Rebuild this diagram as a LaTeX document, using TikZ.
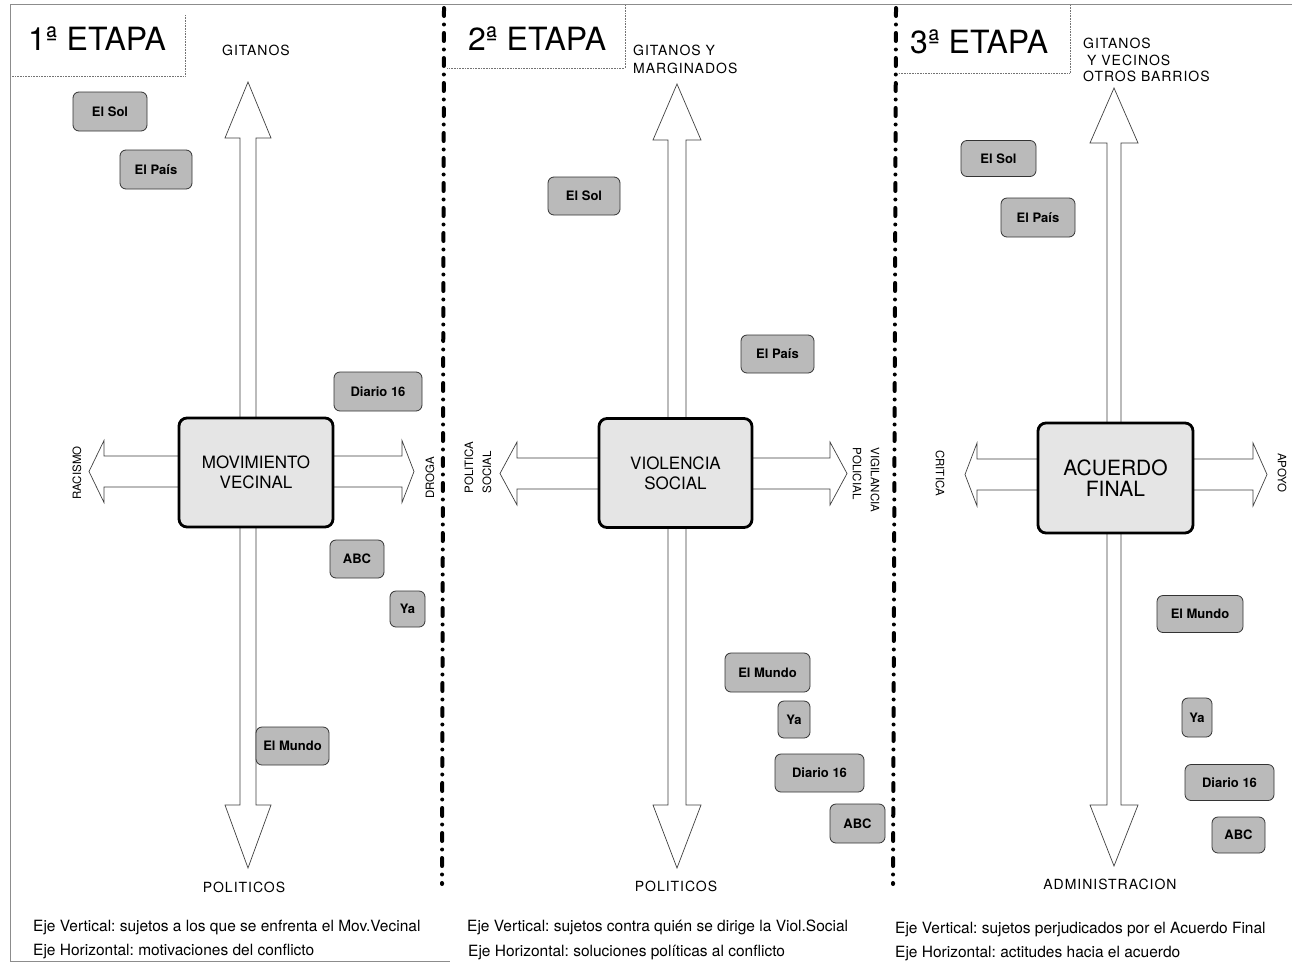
\documentclass[tikz,border=0pt]{standalone}
\usepackage{fontspec}
\setmainfont{TeX Gyre Heros}
\newfontfamily\spacedfont[LetterSpace=7]{TeX Gyre Heros}
\frenchspacing
\begin{document}
\begin{tikzpicture}[x=1pt,y=-1pt]
\tikzset{
 arrowshape/.style={draw=black!75, line width=0.7pt, fill=white, line join=miter},
 mainbox/.style={draw=black, line width=2.8pt, rounded corners=8pt, fill=black!10, align=center, font=\fontsize{17}{20}\selectfont, inner sep=0pt},
 media/.style={draw=black!80, line width=0.8pt, rounded corners=6pt, fill=black!27, font=\fontsize{13}{14}\selectfont\bfseries, inner sep=0pt},
 axislabel/.style={font=\fontsize{11.5}{18}\selectfont, align=left, inner sep=0pt},
 header/.style={font=\spacedfont\fontsize{14}{18}\selectfont, inner sep=0pt},
 titlebox/.style={draw=black!55, densely dotted, line width=0.6pt},
 titletext/.style={font=\fontsize{32}{36}\selectfont, inner sep=0pt, anchor=base west},
 captiontext/.style={font=\fontsize{15.5}{18}\selectfont, inner sep=0pt, anchor=base west},
 divider/.style={line width=4pt, line cap=round, dash pattern=on 8pt off 8.5pt on 0pt off 8.5pt},
 framestyle/.style={draw=black!45, line width=0.6pt}
}
\useasboundingbox (0,0) rectangle (1292,964);
\fill[white] (0,0) rectangle (1292,964);

% frame
\draw[framestyle] (1292,4) -- (10,4) -- (10,961) -- (450,961);

% dividers
\draw[divider] (444,8) -- (442,884);
\draw[divider] (896,8) -- (893,884);

% title boxes
\draw[titlebox] (185,15) -- (185,76) -- (12,76);
\draw[titlebox] (625,5) -- (625,68) -- (447,68);
\draw[titlebox] (1070,5) -- (1070,73) -- (898,73);
\node[titletext] (t1) at (28,50) {1ª ETAPA};
\node[titletext] (t2) at (468,50) {2ª ETAPA};
\node[titletext] (t3) at (910,53) {3ª ETAPA};

% headers
\node[header, anchor=base] (h1) at (256,55) {GITANOS};
\node[header, anchor=base west] (h2a) at (633,55) {GITANOS Y};
\node[header, anchor=base west] (h2b) at (633,73) {MARGINADOS};
\node[header, anchor=base west] (h3a) at (1083,48) {GITANOS};
\node[header, anchor=base west] (h3b) at (1087,65) {Y VECINOS};
\node[header, anchor=base west] (h3c) at (1083,81) {OTROS BARRIOS};

% ===== panel 1 arrows =====
\draw[arrowshape] (248,82) -- (271,138) -- (256,138) -- (256,805) -- (271,805) -- (248,868) -- (225,805) -- (240,805) -- (240,138) -- (225,138) -- cycle;
\draw[arrowshape] (89,471.5) -- (104,440.5) -- (104,456) -- (402,456) -- (402,440.5) -- (414,471.5) -- (402,502.5) -- (402,487) -- (104,487) -- (104,502.5) -- cycle;
\node[mainbox, minimum width=154, minimum height=109] (b1) at (256,472.5) {MOVIMIENTO\\VECINAL};

% ===== panel 2 arrows =====
\draw[arrowshape] (677,84) -- (701,140) -- (686,140) -- (686,805) -- (701,805) -- (677,868) -- (653,805) -- (668,805) -- (668,140) -- (653,140) -- cycle;
\draw[arrowshape] (500,473.5) -- (517,442) -- (517,458) -- (830,458) -- (830,442) -- (847,473.5) -- (830,505) -- (830,489) -- (517,489) -- (517,505) -- cycle;
\node[mainbox, minimum width=153, minimum height=109] (b2) at (675.5,473) {VIOLENCIA\\SOCIAL};

% ===== panel 3 arrows =====
\draw[arrowshape] (1114,88) -- (1138,143) -- (1121,143) -- (1121,805) -- (1138,805) -- (1114,866) -- (1090,805) -- (1107,805) -- (1107,143) -- (1090,143) -- cycle;
\draw[arrowshape] (965,474.5) -- (977,443) -- (977,459) -- (1253,459) -- (1253,443) -- (1267,474.5) -- (1253,506) -- (1253,490) -- (977,490) -- (977,506) -- cycle;
\node[mainbox, minimum width=155, minimum height=110, font=\fontsize{21}{21}\selectfont] (b3) at (1115.5,478) {ACUERDO\\FINAL};

% axis end labels
\node[axislabel, rotate=90] (rac) at (77,473) {RACISMO};
\node[axislabel, rotate=90] (drog) at (430,478) {DROGA};
\node[axislabel, rotate=90] (polsoc) at (478,467.5) {POLITICA\\SOCIAL};
\node[axislabel, rotate=-90] (vigpol) at (866,480) {VIGILANCIA\\POLICIAL};
\node[axislabel, rotate=-90] (crit) at (940,473) {CRITICA};
\node[axislabel, rotate=-90] (apoyo) at (1282,473) {APOYO};

\node[header, anchor=base] (pol1) at (244,892) {POLITICOS};
\node[header, anchor=base] (pol2) at (676,891) {POLITICOS};
\node[header, anchor=base] (adm) at (1110,889) {ADMINISTRACION};

% ===== media panel 1 =====
\node[media, minimum width=74, minimum height=39] (sol1) at (110,111.5) {El Sol};
\node[media, minimum width=72, minimum height=39] (pais1) at (156,169.5) {El País};
\node[media, minimum width=88, minimum height=39] (d16a) at (378,391.5) {Diario 16};
\node[media, minimum width=54, minimum height=38] (abc1) at (357,559) {ABC};
\node[media, minimum width=35, minimum height=36] (ya1) at (407.5,609) {Ya};
\node[media, minimum width=73, minimum height=38] (mundo1) at (292.5,746) {El Mundo};

% ===== media panel 2 =====
\node[media, minimum width=72, minimum height=38] (sol2) at (584,196) {El Sol};
\node[media, minimum width=73, minimum height=38] (pais2) at (777.5,354) {El País};
\node[media, minimum width=85, minimum height=39] (mundo2) at (767.5,672.5) {El Mundo};
\node[media, minimum width=32, minimum height=37] (ya2) at (794,719.5) {Ya};
\node[media, minimum width=89, minimum height=38] (d16b) at (819.5,773) {Diario 16};
\node[media, minimum width=55, minimum height=39] (abc2) at (857.5,823.5) {ABC};

% ===== media panel 3 =====
\node[media, minimum width=75, minimum height=36] (sol3) at (998.5,158.5) {El Sol};
\node[media, minimum width=74, minimum height=39] (pais3) at (1038,217.5) {El País};
\node[media, minimum width=86, minimum height=37] (mundo3) at (1200,614) {El Mundo};
\node[media, minimum width=30, minimum height=39] (ya3) at (1197,717.5) {Ya};
\node[media, minimum width=89, minimum height=36] (d16c) at (1229.5,782.5) {Diario 16};
\node[media, minimum width=53, minimum height=36] (abc3) at (1238.5,835) {ABC};

% captions
\node[captiontext] (c1a) at (33,931) {Eje Vertical: sujetos a los que se enfrenta el Mov.Vecinal};
\node[captiontext] (c1b) at (33,955) {Eje Horizontal: motivaciones del conflicto};
\node[captiontext] (c2a) at (467,931) {Eje Vertical: sujetos contra quién se dirige la Viol.Social};
\node[captiontext] (c2b) at (468,956) {Eje Horizontal: soluciones políticas al conflicto};
\node[captiontext] (c3a) at (895,933) {Eje Vertical: sujetos perjudicados por el Acuerdo Final};
\node[captiontext] (c3b) at (895,957) {Eje Horizontal: actitudes hacia el acuerdo};
\end{tikzpicture}
\end{document}
